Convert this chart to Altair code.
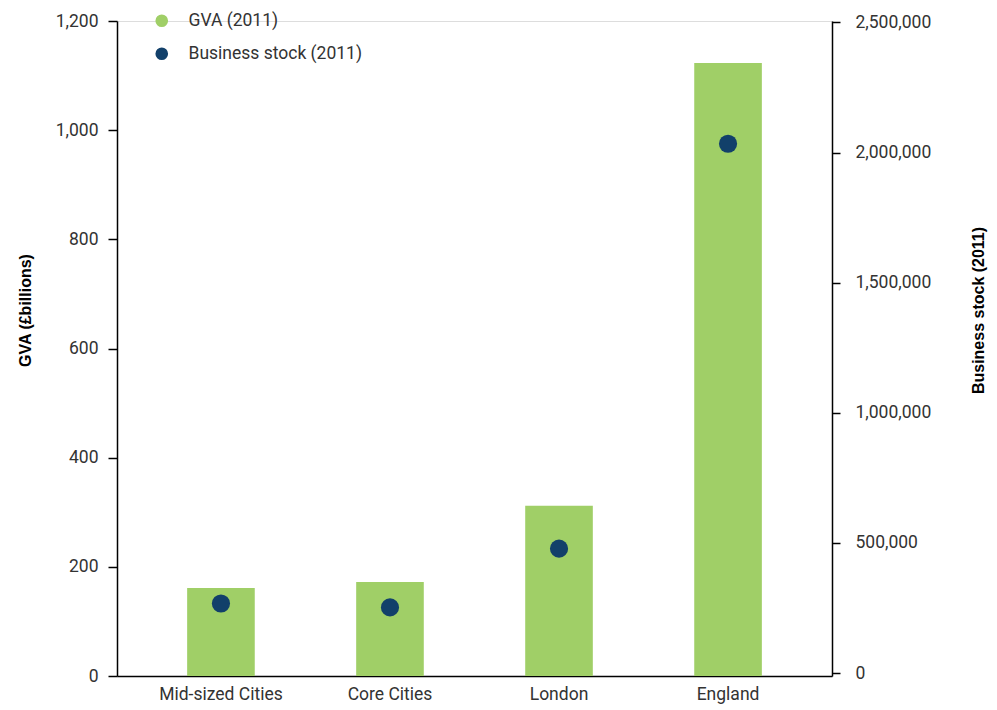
import altair as alt
import pandas as pd

categories = ["Mid-sized Cities", "Core Cities", "London", "England"]
gva = [161, 172, 312, 1123]
business_stock = [267000, 252000, 478000, 2034000]
series_names = ["GVA (2011)", "Business stock (2011)"]
series_colors = ["#a0cf67", "#12406a"]

df = pd.DataFrame({"cat": categories, "gva": gva, "bs": business_stock})

LABEL_FONT = "Roboto"
TITLE_FONT = "Liberation Sans"
LFS = 17.5

x_enc = alt.X(
    "cat:N",
    sort=categories,
    scale=alt.Scale(paddingInner=0.6, paddingOuter=0.415),
    axis=alt.Axis(
        title=None, labelAngle=0, ticks=False, labelPadding=9,
        labelFont=LABEL_FONT, labelFontSize=LFS, labelColor="#333333",
        domainColor="#000000", domainWidth=1.5,
    ),
)

color_scale = alt.Scale(domain=series_names, range=series_colors)

bars = alt.Chart(df).transform_calculate(series="'GVA (2011)'").mark_bar().encode(
    x=x_enc,
    y=alt.Y(
        "gva:Q",
        scale=alt.Scale(domain=[0, 1200], nice=False),
        axis=alt.Axis(
            title="GVA (£billions)", values=[0, 200, 400, 600, 800, 1000, 1200],
            format=",d", grid=False, tickSize=9, tickColor="#000000", tickWidth=1.5,
            domainColor="#000000", domainWidth=1.5, labelPadding=10,
            labelFont=LABEL_FONT, labelFontSize=LFS, labelColor="#333333",
            titleFont=TITLE_FONT, titleFontSize=16, titleFontWeight="bold",
            titleColor="#000000", titleAngle=270, titleX=-92, titleY=289,
            titleAlign="center", titleBaseline="middle",
        ),
    ),
    color=alt.Color(
        "series:N", scale=color_scale,
        legend=alt.Legend(
            title=None, orient="none", legendX=36, legendY=-9,
            symbolType="circle", symbolSize=160, symbolStrokeWidth=0,
            labelFont=LABEL_FONT, labelFontSize=LFS, labelColor="#333333",
            labelOffset=18, rowPadding=14, labelLimit=400,
        ),
    ),
)

points = alt.Chart(df).transform_calculate(series="'Business stock (2011)'").mark_circle(
    size=330, opacity=1
).encode(
    x=alt.X("cat:N", sort=categories),
    y=alt.Y(
        "bs:Q",
        scale=alt.Scale(domain=[-11500, 2505700], nice=False, zero=False),
        axis=alt.Axis(
            orient="right", title="Business stock (2011)",
            values=[0, 500000, 1000000, 1500000, 2000000, 2500000],
            format=",d", grid=False, tickSize=8, tickColor="#000000", tickWidth=1.5,
            domainColor="#000000", domainWidth=1.5, labelPadding=15,
            labelFont=LABEL_FONT, labelFontSize=LFS, labelColor="#333333",
            titleFont=TITLE_FONT, titleFontSize=16, titleFontWeight="bold",
            titleColor="#000000", titleAngle=270, titleX=146, titleY=289,
            titleAlign="center", titleBaseline="middle",
        ),
    ),
    color=alt.Color("series:N", scale=color_scale),
)

chart = alt.layer(bars, points).resolve_scale(y="independent").properties(
    width=715, height=655,
    autosize=alt.AutoSizeParams(type="none"),
    padding={"left": 117, "top": 21, "right": 165, "bottom": 34},
).configure_view(stroke=None).configure(background="#ffffff")

chart.save("out.html", embed_options={"renderer": "svg", "actions": False})
